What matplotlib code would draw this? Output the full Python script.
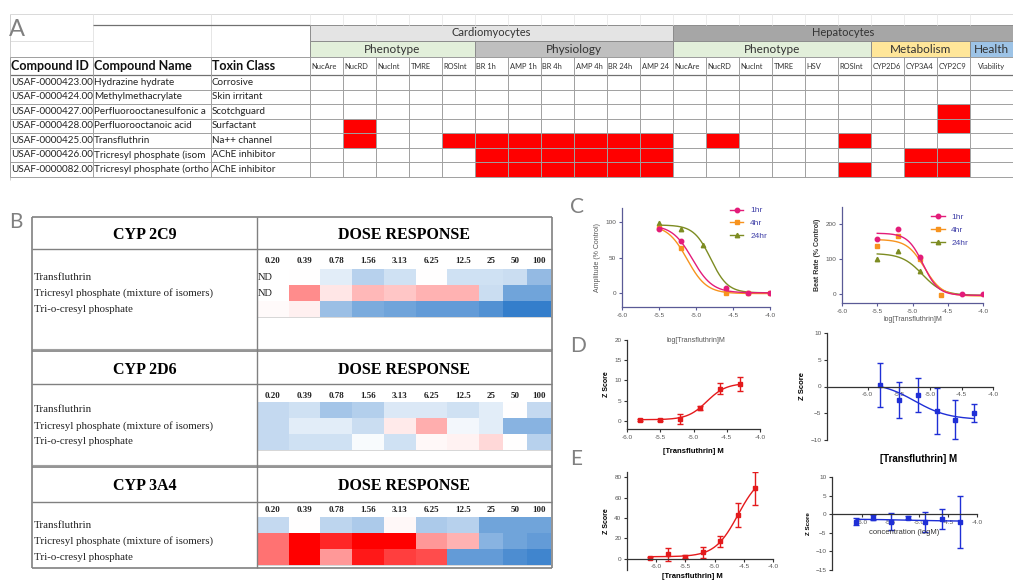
import numpy as np
import matplotlib
matplotlib.use("Agg")
from matplotlib import pyplot as plt
from matplotlib.colors import LinearSegmentedColormap, ListedColormap
from matplotlib.lines import Line2D
from matplotlib.patches import Rectangle

W, H = 1013, 581

# ---------------- panel A: hit table ----------------
compound_ids = ["USAF-0000423.00", "USAF-0000424.00", "USAF-0000427.00",
                "USAF-0000428.00", "USAF-0000425.00", "USAF-0000426.00",
                "USAF-0000082.00"]
compound_names = ["Hydrazine hydrate", "Methylmethacrylate",
                  "Perfluorooctanesulfonic a", "Perfluorooctanoic acid",
                  "Transfluthrin", "Tricresyl phosphate (isom",
                  "Tricresyl phosphate (ortho"]
toxin_classes = ["Corrosive", "Skin irritant", "Scotchguard", "Surfactant",
                 "Na++ channel", "AChE inhibitor", "AChE inhibitor"]
cardio_cols = ["NucAre", "NucRD", "NucInt", "TMRE", "ROSInt", "BR 1h",
               "AMP 1h", "BR 4h", "AMP 4h", "BR 24h", "AMP 24"]
hepato_cols = ["NucAre", "NucRD", "NucInt", "TMRE", "HSV", "ROSInt",
               "CYP2D6", "CYP3A4", "CYP2C9", "Viability"]
# 1 = hit (red cell)
cardio_hits = [
    [0, 0, 0, 0, 0, 0, 0, 0, 0, 0, 0],
    [0, 0, 0, 0, 0, 0, 0, 0, 0, 0, 0],
    [0, 0, 0, 0, 0, 0, 0, 0, 0, 0, 0],
    [0, 1, 0, 0, 0, 0, 0, 0, 0, 0, 0],
    [0, 1, 0, 0, 1, 1, 1, 1, 1, 1, 1],
    [0, 0, 0, 0, 0, 1, 1, 1, 1, 1, 1],
    [0, 0, 0, 0, 0, 1, 1, 1, 1, 1, 1],
]
hepato_hits = [
    [0, 0, 0, 0, 0, 0, 0, 0, 0, 0],
    [0, 0, 0, 0, 0, 0, 0, 0, 0, 0],
    [0, 0, 0, 0, 0, 0, 0, 0, 1, 0],
    [0, 0, 0, 0, 0, 0, 0, 0, 1, 0],
    [0, 1, 0, 0, 0, 1, 0, 0, 0, 0],
    [0, 0, 0, 0, 0, 0, 0, 1, 1, 0],
    [0, 0, 0, 0, 0, 1, 0, 1, 1, 0],
]
cardio_groups = [("Phenotype", 5, "#e2efda"), ("Physiology", 6, "#bfbfbf")]
hepato_groups = [("Phenotype", 6, "#e2efda"), ("Metabolism", 3, "#ffe699"),
                 ("Health", 1, "#9dc3e6")]

# ---------------- panel B: CYP dose response ----------------
doses = ["0.20", "0.39", "0.78", "1.56", "3.13", "6.25", "12.5", "25", "50", "100"]
cyp_compounds = ["Transfluthrin", "Tricresyl phosphate (mixture of isomers)",
                 "Tri-o-cresyl phosphate"]
nd = np.nan
cyp2c9 = [[nd, 0.0, -0.12, -0.3, -0.2, 0.0, -0.2, -0.2, -0.22, -0.45],
          [nd, 0.45, 0.1, 0.28, 0.22, 0.3, 0.3, -0.22, -0.6, -0.6],
          [0.02, 0.06, -0.42, -0.55, -0.6, -0.65, -0.65, -0.72, -0.85, -0.85]]
cyp2d6 = [[-0.25, -0.2, -0.38, -0.32, -0.15, -0.15, -0.2, -0.12, 0.0, -0.25],
          [-0.25, -0.12, -0.12, -0.22, 0.08, 0.32, -0.05, -0.12, -0.5, -0.5],
          [-0.25, -0.2, -0.2, -0.03, -0.2, 0.03, 0.05, 0.15, 0.0, -0.3]]
cyp3a4 = [[-0.25, 0.0, -0.28, -0.35, 0.03, -0.35, -0.3, -0.6, -0.6, -0.6],
          [0.55, 1.0, 0.85, 1.0, 1.0, 0.4, 0.3, -0.5, -0.6, -0.65],
          [0.55, 1.0, 0.4, 0.9, 0.75, 0.7, -0.65, -0.65, -0.75, -0.8]]
cyp_panels = [("CYP 2C9", cyp2c9), ("CYP 2D6", cyp2d6), ("CYP 3A4", cyp3a4)]

# ---------------- panel C: cardiomyocyte amplitude / beat rate ----------------
times = ["1hr", "4hr", "24hr"]
amp_x = [[-5.5, -5.2, -4.6, -4.3, -4.0], [-5.5, -5.2, -4.6, -4.3, -4.0],
         [-5.5, -5.2, -4.9, -4.6]]
amp_y = [[91, 73, 7, 0, 0], [92, 64, 0, 0, 0], [99, 90, 67, 5]]
amp_fit = [(0, 96, -5.05, -3.2), (-1, 96, -5.12, -3.3), (0, 96, -4.8, -3.8)]
beat_x = [[-5.5, -5.2, -4.9, -4.3, -4.0], [-5.5, -5.2, -4.9, -4.6],
          [-5.5, -5.2, -4.9]]
beat_y = [[157, 187, 107, 0, 0], [138, 168, 100, -2], [102, 125, 68]]
beat_fit = [(-3, 175, -4.85, -4.0), (-5, 157, -4.83, -3.5), (-3, 117, -4.86, -3.0)]

# ---------------- panels D / E: Z scores ----------------
d_x = [-5.8, -5.5, -5.2, -4.9, -4.6, -4.3]
d_left_y = [0.3, 0.3, 0.4, 3.1, 8.0, 9.1]
d_left_err = [0.2, 0.2, 1.2, 0.5, 1.3, 1.7]
d_left_fit = (0.3, 9.3, -4.8, 3.0)
d_right_y = [0.2, -2.5, -1.6, -4.6, -6.2, -4.9]
d_right_err = [4.1, 3.4, 3.1, 4.3, 3.6, 1.7]
d_right_fit = (-6.2, 0.8, -5.25, -1.6)
e_x = [-6.1, -5.8, -5.5, -5.2, -4.9, -4.6, -4.3]
e_left_y = [0.5, 4.5, 2.0, 6.5, 17, 43, 69]
e_left_err = [1.0, 6.5, 1.5, 5.5, 5.5, 11.5, 16]
e_left_fit = (2, 84, -4.6, 2.2)
e_right_y = [-2.0, -0.9, -2.0, -0.9, -2.0, -1.3, -2.2]
e_right_err = [1.0, 0.6, 2.2, 0.5, 2.7, 2.8, 7.0]
e_right_fit = (-1.9, -1.3, -5.2, -1.0)

time_colors = ["#e31c79", "#f7931e", "#7d8c22"]
time_markers = ["o", "s", "^"]
RED = "#e41a1c"
BLUE = "#1f2fd6"

SANS = ["Lato", "DejaVu Sans"]
SERIF = ["Liberation Serif", "DejaVu Serif"]
ARIAL = ["Liberation Sans", "DejaVu Sans"]


def four_pl(x, bottom, top, logec, hill):
    return bottom + (top - bottom) / (1 + 10 ** ((logec - x) * hill))


fig = plt.figure(figsize=(W / 100, H / 100), dpi=100)
base = fig.add_axes([0, 0, 1, 1])
base.set_xlim(0, W)
base.set_ylim(H, 0)
base.axis("off")


def hline(y, x0, x1, c="#9e9e9e", lw=0.7):
    base.plot([x0, x1], [y, y], color=c, lw=lw, solid_capstyle="butt")


def vline(x, y0, y1, c="#9e9e9e", lw=0.7):
    base.plot([x, x], [y0, y1], color=c, lw=lw, solid_capstyle="butt")


# ================= panel A =================
col_w = 33
cardio_edges = 310 + col_w * np.arange(len(cardio_cols) + 1)
hepato_edges = np.append(cardio_edges[-1] + col_w * np.arange(len(hepato_cols)), W)
x_edges = np.concatenate([cardio_edges, hepato_edges[1:]])
row_h = 14.5
y_edges = 75 + row_h * np.arange(len(compound_ids) + 1)

# faint spreadsheet grid
hline(14, 10, W, "#d9d9d9")
hline(41, 10, 93, "#e0e0e0")
for x in [93, 211]:
    vline(x, 14, 57, "#e6e6e6")
for x in x_edges:
    vline(x, 14, 25, "#ececec")
vline(10, 14, 180, "#cfcfcf")
hline(24.5, 93, 310, "#707070", 0.9)
base.text(9, 29, "A", fontsize=17, color="#808080", family=SANS, va="center")

# header rows
base.add_patch(Rectangle((310, 25), cardio_edges[-1] - 310, 16, fc="#e4e4e4",
                         ec="#8c8c8c", lw=0.7))
base.add_patch(Rectangle((cardio_edges[-1], 25), W - cardio_edges[-1], 16,
                         fc="#a6a6a6", ec="#8c8c8c", lw=0.7))
base.text((310 + cardio_edges[-1]) / 2, 33, "Cardiomyocytes", ha="center",
          va="center", fontsize=8, color="#333333", family=SANS)
base.text((cardio_edges[-1] + W) / 2, 33, "Hepatocytes", ha="center",
          va="center", fontsize=8, color="#333333", family=SANS)
for groups, edges in [(cardio_groups, cardio_edges), (hepato_groups, hepato_edges)]:
    i = 0
    for name, n, fc in groups:
        x0, x1 = edges[i], edges[i + n]
        base.add_patch(Rectangle((x0, 41), x1 - x0, 16, fc=fc, ec="#8c8c8c", lw=0.7))
        base.text((x0 + x1) / 2, 49.5, name, ha="center", va="center",
                  fontsize=8.5, color="#333333", family=SANS)
        i += n

hline(57, 10, W, "#9e9e9e")
for label, x in [("Compound ID", 11), ("Compound Name", 94), ("Toxin Class", 212)]:
    base.text(x, 66.5, label, fontsize=9, fontweight="bold", va="center",
              family=SANS, color="#111111")
for labels, edges in [(cardio_cols, cardio_edges), (hepato_cols, hepato_edges)]:
    for j, lab in enumerate(labels):
        if lab == "Viability":
            base.text((edges[j] + edges[j + 1]) / 2, 66.5, lab, fontsize=5.4,
                      ha="center", va="center", family=SANS, color="#333333")
        else:
            base.text(edges[j] + 1.5, 66.5, lab, fontsize=5.4, va="center",
                      family=SANS, color="#333333")

# hits
hits = np.hstack([np.array(cardio_hits), np.array(hepato_hits)]).astype(float)
base.pcolormesh(x_edges, y_edges, np.ma.masked_equal(hits, 0),
                cmap=ListedColormap(["#ff0000"]), vmin=0, vmax=1)

for y in y_edges:
    hline(y, 10, W, "#a0a0a0")
hline(y_edges[0], 10, W, "#707070", 0.9)
for x in list(x_edges) + [10, 93, 211]:
    vline(x, 57, y_edges[-1], "#a0a0a0")
for i in range(len(compound_ids)):
    yc = (y_edges[i] + y_edges[i + 1]) / 2
    base.text(11, yc, compound_ids[i], fontsize=7.1, va="center", family=SANS, color="#222222")
    base.text(94, yc, compound_names[i], fontsize=7.1, va="center", family=SANS,
              color="#222222")
    base.text(212, yc, toxin_classes[i], fontsize=7.1, va="center", family=SANS, color="#222222")

# ================= panel B =================
box_x0, box_div, box_x1 = 32, 257, 552
dose_w = [31.7] * 7 + [24] * 3
dose_edges = box_div + np.concatenate([[0], np.cumsum(dose_w)])
sections = [(217, 249, 261, 269, 351), (351, 384, 396, 402, 467),
            (467, 502, 510, 517, 568)]
heat_h = 16
cmap = LinearSegmentedColormap.from_list("cyp", ["#1167c2", "#ffffff", "#ff0000"])
base.text(9, 222, "B", fontsize=15, color="#808080", family=SANS, va="center")

for (name, vals), (top, head, dose_y, row0, bottom) in zip(cyp_panels, sections):
    vals = np.array(vals)
    ry = row0 + heat_h * np.arange(4)
    base.pcolormesh(dose_edges, ry, np.ma.masked_invalid(vals), cmap=cmap,
                    vmin=-1, vmax=1)
    hline(ry[-1], box_div, box_x1, "#d0d0d0", 0.6)
    base.text((box_x0 + box_div) / 2, (top + head) / 2 + 2, name, ha="center",
              va="center", fontsize=11.5, fontweight="bold", family=SERIF)
    base.text((box_div + box_x1) / 2, (top + head) / 2 + 2, "DOSE RESPONSE",
              ha="center", va="center", fontsize=11.5, fontweight="bold", family=SERIF)
    hline(head, box_x0, box_x1, "#808080", 1.0)
    hline(top, box_x0, box_x1, "#808080", 1.2)
    if top > 217:
        hline(top - 2.5, box_x0, box_x1, "#a0a0a0", 0.8)
    for j, d in enumerate(doses):
        base.text((dose_edges[j] + dose_edges[j + 1]) / 2, dose_y, d, ha="center",
                  va="center", fontsize=6.5, fontweight="bold", family=SERIF,
                  color="#222222")
    for i, comp in enumerate(cyp_compounds):
        yc = (ry[i] + ry[i + 1]) / 2
        base.text(box_x0 + 2, yc, comp, va="center", fontsize=7.8, family=SERIF,
                  color="#222222")
        if np.isnan(vals[i, 0]):
            base.text(box_div + 1, yc, "ND", va="center", fontsize=7.5,
                      family=SERIF, color="#222222")
hline(568, box_x0, box_x1, "#808080", 1.2)
vline(box_x0, 217, 568, "#808080", 1.2)
vline(box_div, 217, 568, "#808080", 1.0)
vline(box_x1, 217, 568, "#808080", 1.2)


# ================= panels C, D, E =================
def px_axes(x0, y0, x1, y1):
    return fig.add_axes([x0 / W, 1 - y1 / H, (x1 - x0) / W, (y1 - y0) / H])


def prism(ax, color, zero_axis=False):
    ax.patch.set_alpha(0)
    for s in ["top", "right"]:
        ax.spines[s].set_visible(False)
    for s in ["left", "bottom"]:
        ax.spines[s].set_color(color)
        ax.spines[s].set_linewidth(0.9)
    if zero_axis:
        ax.spines["bottom"].set_position(("data", 0))
    ax.tick_params(color=color, labelcolor="#555555", labelsize=4.6, length=2.5,
                   width=0.8, pad=1.5)
    for lab in ax.get_xticklabels() + ax.get_yticklabels():
        lab.set_family(ARIAL)


xt = [-6.0, -5.5, -5.0, -4.5, -4.0]
xt_lab = ["%.1f" % t for t in xt]

for letter, y in [("C", 207), ("D", 346), ("E", 459)]:
    base.text(570, y, letter, fontsize=15, color="#808080", family=SANS, va="center")

# C left: amplitude
ax = px_axes(622, 208, 770, 307)
for k in [2, 1, 0]:
    xs = np.linspace(-5.5, -4.0, 200)
    ax.plot(xs, four_pl(xs, *amp_fit[k]), color=time_colors[k], lw=1.0)
    ax.plot(amp_x[k], amp_y[k], time_markers[k], color=time_colors[k], ms=3.2)
ax.set_xlim(-6, -4)
ax.set_ylim(-20, 120)
ax.set_xticks(xt, xt_lab)
ax.set_yticks([0, 50, 100])
ax.set_ylabel("Amplitude (% Control)", fontsize=5, color="#555555", family=ARIAL, labelpad=3)
ax.set_xlabel("log[Transfluthrin]M", fontsize=5, color="#555555", family=ARIAL, labelpad=14)
prism(ax, "#5a5a96")
handles = [Line2D([], [], color=time_colors[k], marker=time_markers[k], ms=3.2, lw=1)
           for k in range(3)]
ax.legend(handles, times, loc="upper left", bbox_to_anchor=(0.68, 1.09), frameon=False,
          labelcolor="#4040a8", handlelength=1.6, labelspacing=0.6,
          prop={"family": ARIAL, "size": 6})

# C right: beat rate
ax = px_axes(842, 207, 983, 303)
for k in [2, 1, 0]:
    xs = np.linspace(-5.5, -4.0, 200)
    ax.plot(xs, four_pl(xs, *beat_fit[k]), color=time_colors[k], lw=1.0)
    ax.plot(beat_x[k], beat_y[k], time_markers[k], color=time_colors[k], ms=3.2)
ax.set_xlim(-6, -4)
ax.set_ylim(-25, 250)
ax.set_xticks(xt, xt_lab)
ax.set_yticks([0, 100, 200])
ax.set_ylabel("Beat Rate (% Control)", fontsize=5, color="#333333", family=ARIAL,
              fontweight="bold", labelpad=3)
ax.set_xlabel("log[Transfluthrin]M", fontsize=5, color="#555555", family=ARIAL, labelpad=2)
prism(ax, "#5a5a96")
ax.legend(handles, times, loc="upper left", bbox_to_anchor=(0.58, 1.01), frameon=False,
          labelcolor="#4040a8", handlelength=1.6, labelspacing=0.6,
          prop={"family": ARIAL, "size": 6})


def zplot(ax, x, y, err, fit, color, xmin):
    xs = np.linspace(min(x), max(x), 200)
    ax.plot(xs, four_pl(xs, *fit), color=color, lw=1.0)
    ax.errorbar(x, y, yerr=err, fmt="s", color=color, ms=3, capsize=2,
                elinewidth=1.0, capthick=1.0)
    ax.set_xlim(xmin, -4.0)
    ax.set_xticks(xt, xt_lab)


# D left
ax = px_axes(627, 340, 760, 429)
zplot(ax, d_x, d_left_y, d_left_err, d_left_fit, RED, -6.0)
ax.set_ylim(-2, 20)
ax.set_yticks([0, 5, 10, 15, 20])
ax.set_ylabel("Z Score", fontsize=5, fontweight="bold", family=ARIAL, labelpad=3)
ax.set_xlabel("[Transfluthrin] M", fontsize=5.5, fontweight="bold", family=ARIAL, labelpad=6)
prism(ax, "#333333")

# D right
ax = px_axes(827, 333, 993, 440)
zplot(ax, d_x, d_right_y, d_right_err, d_right_fit, BLUE, -6.65)
ax.set_ylim(-10, 10)
ax.set_yticks([-10, -5, 0, 5, 10])
ax.set_ylabel("Z Score", fontsize=5.5, fontweight="bold", family=ARIAL, labelpad=3)
prism(ax, "#333333", zero_axis=True)
ax.text(0.55, -0.13, "[Transfluthrin] M", transform=ax.transAxes, ha="center",
        va="top", fontsize=7, fontweight="bold", family=ARIAL)

# E left
ax = px_axes(627, 472, 773, 570)
zplot(ax, e_x, e_left_y, e_left_err, e_left_fit, RED, -6.5)
ax.set_ylim(-11, 85)
ax.set_yticks([0, 20, 40, 60, 80])
ax.set_ylabel("Z Score", fontsize=5, fontweight="bold", family=ARIAL, labelpad=3)
prism(ax, "#333333", zero_axis=True)
ax.text(0.45, -0.03, "[Transfluthrin] M", transform=ax.transAxes, ha="center",
        va="top", fontsize=5.5, fontweight="bold", family=ARIAL)

# E right
ax = px_axes(832, 477, 977, 570)
zplot(ax, e_x, e_right_y, e_right_err, e_right_fit, BLUE, -6.52)
ax.set_ylim(-15, 10)
ax.set_yticks([-15, -10, -5, 0, 5, 10])
ax.set_ylabel("Z Score", fontsize=4.5, fontweight="bold", family=ARIAL, labelpad=3)
prism(ax, "#333333", zero_axis=True)
ax.text(0.5, 0.4, "concentration (logM)", transform=ax.transAxes, ha="center",
        va="center", fontsize=5.5, color="#333333", family=ARIAL)

fig.savefig("out.png", dpi=100)
